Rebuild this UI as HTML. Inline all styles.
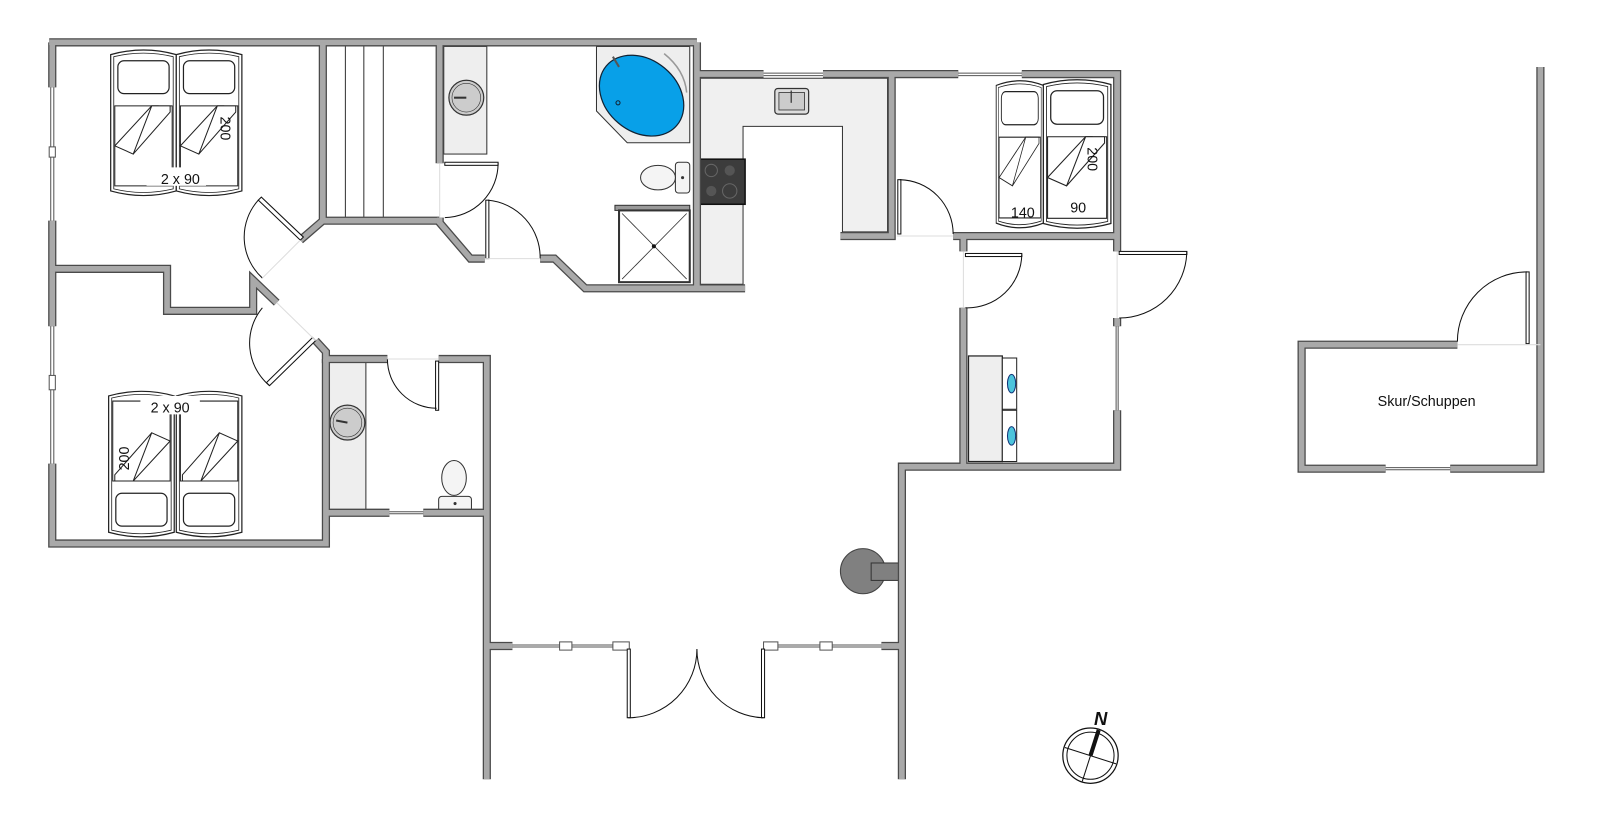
<!DOCTYPE html>
<html><head><meta charset="utf-8"><style>
html,body{margin:0;padding:0;background:#fff;}
svg{display:block;}
text{font-family:"Liberation Sans",sans-serif;fill:#111;}
</style></head><body>
<svg width="1606" height="839" viewBox="0 0 1567 818" xmlns="http://www.w3.org/2000/svg">
<defs>
<g id="walls" fill="none">
 <path d="M48,41 H680"/>
 <path d="M51,41 V85 M51,215 V318 M51,452 V530 H318 V350"/>
 <path d="M308,332 L318,343 V350 H378 M428,350 H475 V760"/>
 <path d="M318,500 H380 M413,500 H475"/>
 <path d="M51,262 H163 V303 H247 V273 L270,295"/>
 <path d="M315,41 V215 H429 M315,215 L293,234"/>
 <path d="M429,41 V159 M429,212 V217 L459,252 H473 M527,252 H541 L571,281 H727"/>
 <path d="M680,41 V281"/>
 <path d="M680,72 H745 M803,72 H935 M997,72 H1090 V245 M1090,310 V318 M1090,400 V455 H880 V760"/>
 <path d="M870,72 V230 H820 M930,230 H1090"/>
 <path d="M940,230 V245 M940,300 V455"/>
 <path d="M475,630 H500 M860,630 H880"/>
 <path d="M1422,336 H1270 V457 H1352 M1415,457 H1503 V65"/>
</g>
<g id="bed">
 <path d="M0,6 Q32,-3 64,6 V139 Q32,148 0,139 Z" fill="#fff" stroke="#222" stroke-width="1.2"/>
 <path d="M3,8 Q32,1 61,8 V137 Q32,144 3,137 Z" fill="none" stroke="#222" stroke-width="0.8"/>
 <rect x="7" y="12" width="50" height="32" rx="6" fill="#fff" stroke="#222" stroke-width="1.2"/>
 <path d="M4,56 H60 V134 H4 Z" fill="none" stroke="#222" stroke-width="1"/>
 <polygon points="4,95 40,56 46,56 22,103" fill="#fff" stroke="#222" stroke-width="1"/>
 <polygon points="40,56 58,56 58,62 22,103" fill="#fff" stroke="#222" stroke-width="1"/>
</g>
</defs>

<polygon points="683,76 866,76 866,226 822,226 822,123 725,123 725,277 683,277" fill="#f0f0f0" stroke="#333" stroke-width="1"/>
<rect x="756" y="86" width="33" height="25" rx="3" fill="#ddd" stroke="#333" stroke-width="1.2"/>
<rect x="760" y="90" width="25" height="17" fill="#ccc" stroke="#333" stroke-width="0.8"/>
<line x1="772" y1="88" x2="772" y2="100" stroke="#333" stroke-width="1.2"/>
<rect x="683" y="155" width="44" height="44" fill="#3c3c3c" stroke="#111" stroke-width="1.5"/>
<circle cx="694" cy="166" r="6" fill="none" stroke="#666"/><circle cx="712" cy="166" r="5" fill="#555"/>
<circle cx="694" cy="186" r="5" fill="#555"/><circle cx="712" cy="186" r="7" fill="none" stroke="#666"/>
<rect x="433" y="45" width="42" height="105" fill="#eee" stroke="#333" stroke-width="1"/>
<circle cx="455" cy="95" r="17" fill="#ccc" stroke="#333" stroke-width="1.2"/>
<circle cx="455" cy="95" r="14" fill="none" stroke="#333" stroke-width="0.6"/>
<line x1="443" y1="95" x2="455" y2="95" stroke="#333" stroke-width="2"/>
<polygon points="582,45 673,45 673,139 612,139 582,108" fill="#eee" stroke="#333" stroke-width="1"/>
<path d="M648,52 Q668,68 670,90" fill="none" stroke="#999" stroke-width="1.5"/>
<ellipse cx="626" cy="93" rx="45" ry="35" transform="rotate(40 626 93)" fill="#08a0e8" stroke="#123" stroke-width="1.2"/>
<line x1="598" y1="55" x2="604" y2="65" stroke="#555" stroke-width="2"/>
<circle cx="603" cy="100" r="2" fill="none" stroke="#123"/>
<rect x="659" y="158" width="14" height="30" rx="3" fill="#f4f4f4" stroke="#333"/>
<ellipse cx="642" cy="173" rx="17" ry="12" fill="#f4f4f4" stroke="#333"/>
<circle cx="666" cy="173" r="1.5" fill="#333"/>
<rect x="600" y="200" width="73" height="5" fill="#999" stroke="#333" stroke-width="1"/>
<rect x="604" y="205" width="69" height="70" fill="#fff" stroke="#333" stroke-width="2"/>
<line x1="607" y1="208" x2="670" y2="272" stroke="#333" stroke-width="0.8"/>
<line x1="670" y1="208" x2="607" y2="272" stroke="#333" stroke-width="0.8"/>
<circle cx="638" cy="240" r="2" fill="#111"/>
<rect x="319" y="45" width="110" height="170" fill="#fff"/>
<g stroke="#333" stroke-width="1"><line x1="337" y1="45" x2="337" y2="212"/><line x1="355" y1="45" x2="355" y2="212"/><line x1="374" y1="45" x2="374" y2="212"/></g>
<rect x="321" y="352" width="36" height="145" fill="#eee" stroke="#333" stroke-width="1"/>
<circle cx="339" cy="412" r="17" fill="#ccc" stroke="#333" stroke-width="1.2"/>
<circle cx="339" cy="412" r="14" fill="none" stroke="#333" stroke-width="0.6"/>
<line x1="328" y1="410" x2="339" y2="412" stroke="#333" stroke-width="2"/>
<rect x="428" y="484" width="32" height="15" rx="3" fill="#f4f4f4" stroke="#333"/>
<ellipse cx="443" cy="466" rx="12" ry="17" fill="#f4f4f4" stroke="#333"/>
<circle cx="444" cy="491" r="1.5" fill="#333"/>
<rect x="945" y="347" width="33" height="103" fill="#eee" stroke="#222" stroke-width="1.2"/>
<rect x="978" y="349" width="14" height="50" fill="#fff" stroke="#222"/>
<rect x="978" y="400" width="14" height="50" fill="#fff" stroke="#222"/>
<ellipse cx="987" cy="374" rx="4" ry="9" fill="#4cc4dc" stroke="#137"/>
<ellipse cx="987" cy="425" rx="4" ry="9" fill="#4cc4dc" stroke="#137"/>
<circle cx="842" cy="557" r="22" fill="#808080" stroke="#444"/>
<rect x="850" y="549" width="27" height="17" fill="#808080" stroke="#333"/>

<use href="#bed" transform="translate(108,47)"/>
<use href="#bed" transform="translate(172,47)"/>
<use href="#bed" transform="translate(170,525) rotate(180)"/>
<use href="#bed" transform="translate(236,525) rotate(180)"/>
<use href="#bed" transform="translate(972,77) scale(0.72,1.01)"/>
<use href="#bed" transform="translate(1018,76) scale(1.03,1.02)"/>
<rect x="143" y="163" width="58" height="18" fill="#fff"/>
<text x="176" y="179" font-size="14" text-anchor="middle">2 x 90</text>
<text x="215" y="125" font-size="14" transform="rotate(90 215 125)" text-anchor="middle">200</text>
<rect x="137" y="386" width="58" height="18" fill="#fff"/>
<text x="166" y="402" font-size="14" text-anchor="middle">2 x 90</text>
<text x="126" y="447" font-size="14" transform="rotate(-90 126 447)" text-anchor="middle">200</text>
<text x="998" y="212" font-size="14" text-anchor="middle">140</text>
<text x="1052" y="207" font-size="14" text-anchor="middle">90</text>
<text x="1061" y="155" font-size="14" transform="rotate(90 1061 155)" text-anchor="middle">200</text>
<text x="1392" y="396" font-size="14" text-anchor="middle">Skur/Schuppen</text>

<use href="#walls" stroke="#4a4a4a" stroke-width="8"/>
<use href="#walls" stroke="#a9a9a9" stroke-width="5.5"/>

<g stroke="#555" stroke-width="1" fill="#fff">
 <line x1="49.5" y1="85" x2="49.5" y2="215"/><line x1="52.5" y1="85" x2="52.5" y2="215"/>
 <rect x="48" y="143" width="6" height="10"/>
 <line x1="49.5" y1="318" x2="49.5" y2="452"/><line x1="52.5" y1="318" x2="52.5" y2="452"/>
 <rect x="48" y="366" width="6" height="14"/>
 <line x1="745" y1="71" x2="803" y2="71"/><line x1="745" y1="73.5" x2="803" y2="73.5"/>
 <line x1="935" y1="71" x2="997" y2="71"/><line x1="935" y1="73.5" x2="997" y2="73.5"/>
 <line x1="1089" y1="318" x2="1089" y2="400"/><line x1="1091" y1="318" x2="1091" y2="400"/>
 <line x1="380" y1="499" x2="413" y2="499"/><line x1="380" y1="501" x2="413" y2="501"/>
 <line x1="500" y1="629" x2="612" y2="629"/><line x1="500" y1="631" x2="612" y2="631"/>
 <rect x="546" y="626" width="12" height="8"/>
 <line x1="750" y1="629" x2="860" y2="629"/><line x1="750" y1="631" x2="860" y2="631"/>
 <rect x="800" y="626" width="12" height="8"/>
 <line x1="1352" y1="456" x2="1415" y2="456"/><line x1="1352" y1="458" x2="1415" y2="458"/>
 <rect x="598" y="626" width="16" height="8"/><rect x="745" y="626" width="14" height="8"/>
</g>

<g fill="#fff" stroke="#111" stroke-width="1">
 <polygon points="293,234 252,195 255,192 296,231"/>
 <polygon points="308,332 263,376 260,373 305,329"/>
 <rect x="434" y="158" width="52" height="3"/>
 <rect x="474" y="195" width="3" height="57"/>
 <rect x="425" y="352" width="3" height="48"/>
 <rect x="876" y="175" width="3" height="53"/>
 <rect x="942" y="247" width="55" height="3"/>
 <rect x="1092" y="245" width="66" height="3"/>
 <rect x="612" y="633" width="3" height="67"/>
 <rect x="743" y="633" width="3" height="67"/>
 <rect x="1489" y="265" width="3" height="70"/>
</g>
<g fill="none" stroke="#111" stroke-width="1">
 <path d="M252,195 A54,54 0 0 0 256,271"/>
 <path d="M263,376 A54,54 0 0 1 256,300"/>
 <path d="M486,159 A53,53 0 0 1 434,212"/>
 <path d="M476,195 A56,56 0 0 1 527,252"/>
 <path d="M426,398 A48,48 0 0 1 378,350"/>
 <path d="M878,175 A53,53 0 0 1 930,228"/>
 <path d="M997,248 A53,53 0 0 1 942,300"/>
 <path d="M1158,245 A66,66 0 0 1 1092,310"/>
 <path d="M613,700 A67,67 0 0 0 680,633"/>
 <path d="M745,700 A67,67 0 0 1 680,633"/>
 <path d="M1490,265 A68,68 0 0 0 1422,333"/>
</g>
<g stroke="#ddd" stroke-width="1">
 <line x1="256" y1="271" x2="293" y2="234"/><line x1="270" y1="295" x2="308" y2="332"/>
 <line x1="473" y1="252" x2="527" y2="252"/><line x1="378" y1="350" x2="428" y2="350"/>
 <line x1="875" y1="230" x2="930" y2="230"/><line x1="940" y1="245" x2="940" y2="300"/>
 <line x1="1090" y1="245" x2="1090" y2="310"/><line x1="1422" y1="336" x2="1503" y2="336"/>
 <line x1="429" y1="159" x2="429" y2="212"/>
</g>

<g transform="translate(1064,737)">
 <circle r="27" fill="none" stroke="#111" stroke-width="1.2"/>
 <circle r="23" fill="none" stroke="#111" stroke-width="1"/>
 <line x1="-25" y1="-8" x2="25" y2="8" stroke="#111"/>
 <line x1="-8" y1="25" x2="0" y2="0" stroke="#111"/>
 <line x1="0" y1="0" x2="8" y2="-25" stroke="#111" stroke-width="4"/>
 <text x="10" y="-30" font-size="18" font-weight="bold" font-style="italic" text-anchor="middle">N</text>
</g>
</svg>
</body></html>
